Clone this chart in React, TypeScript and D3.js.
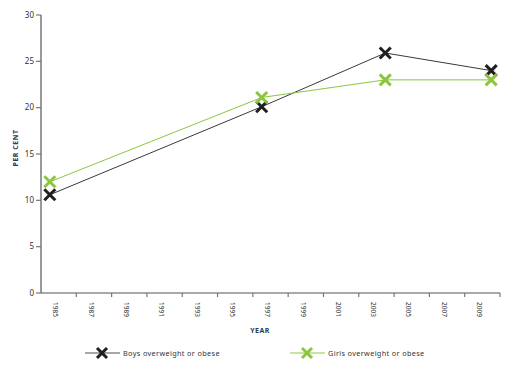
import * as d3 from 'd3';

const yearLabels = ['1985', '1987', '1989', '1991', '1993', '1995', '1997', '1999', '2001', '2003', '2005', '2007', '2009'];
const surveyYears = [1985, 1997, 2004, 2010];
const boysValues = [10.6, 20.1, 25.9, 24.0];
const girlsValues = [12.0, 21.1, 23.0, 23.0];
const yTicks = [0, 5, 10, 15, 20, 25, 30];

const series = [
  { name: 'Boys overweight or obese', values: boysValues, line: '#3a3a3a', marker: '#1f1f1f', legendLine: '#8a8a8a' },
  { name: 'Girls overweight or obese', values: girlsValues, line: '#8cc63f', marker: '#8cc63f', legendLine: '#b5db8a' },
];

const font = '"Noto Sans", sans-serif';

function Cross(props: { x: number, y: number, color: string, size?: number }) {
  const s = props.size || 5.5;
  return (
    <g stroke={props.color} strokeWidth={3} strokeLinecap="butt">
      <line x1={props.x - s} y1={props.y - s} x2={props.x + s} y2={props.y + s} />
      <line x1={props.x - s} y1={props.y + s} x2={props.x + s} y2={props.y - s} />
    </g>
  );
}

export default function App() {
  const left = 41, right = 500, top = 15, bottom = 293;

  // categories for the tick labels
  const band = d3.scaleBand().domain(yearLabels).range([left, right]);
  // actual years for the points
  const x = d3.scaleLinear().domain([1984.5, 2010.5]).range([left, right]);
  const y = d3.scaleLinear().domain([0, 30]).range([bottom, top]);

  const line = d3.line<number>()
    .x((d, i) => x(surveyYears[i]))
    .y(d => y(d));

  const boundaries = yearLabels.map(l => band(l)! + band.bandwidth());

  return (
    <div style={{ position: 'absolute', left: 0, top: 0 }}>
      <svg width={521} height={368} style={{ display: 'block', fontFamily: font }}>
        <rect width={521} height={368} fill="#fff" />

        {/* Y axis */}
        <line x1={left} y1={top} x2={left} y2={bottom} stroke="#555" strokeWidth={1.2} />
        {yTicks.map(t => (
          <g key={t}>
            <line x1={left - 5} x2={left} y1={y(t)} y2={y(t)} stroke="#777" strokeWidth={1.2} />
            <text x={left - 7} y={y(t)} dy="0.35em" textAnchor="end" fontSize={8} fill="#333">{t}</text>
          </g>
        ))}
        <text transform={`translate(15.5,148) rotate(-90)`} dy="0.35em" textAnchor="middle" fontSize={7} fontWeight="bold" fill="#2b3a55" letterSpacing={0.5}>PER CENT</text>

        {/* X axis */}
        <line x1={left} y1={bottom} x2={right} y2={bottom} stroke="#555" strokeWidth={1.2} />
        {boundaries.map((b, i) => (
          <line key={i} x1={b} x2={b} y1={bottom} y2={bottom + 4} stroke="#777" strokeWidth={1.2} />
        ))}
        {yearLabels.map(l => (
          <text key={l} transform={`translate(${band(l)! + band.bandwidth() / 2 - 3},${bottom + 9}) rotate(90)`}
            textAnchor="start" dy="0.35em" fontSize={6.5} fill="#333">{l}</text>
        ))}
        <text x={260} y={333} textAnchor="middle" fontSize={7} fontWeight="bold" fill="#2b3a55" letterSpacing={0.5}>YEAR</text>

        {/* Series */}
        {series.map(s => (
          <path key={s.name} d={line(s.values)!} fill="none" stroke={s.line} strokeWidth={1} />
        ))}
        {series.map(s => s.values.map((v, i) => (
          <Cross key={s.name + i} x={x(surveyYears[i])} y={y(v)} color={s.marker} />
        )))}

        {/* Legend */}
        {series.map((s, i) => {
          const lx = 85 + i * 205;
          return (
            <g key={s.name}>
              <line x1={lx} x2={lx + 35} y1={353} y2={353} stroke={s.legendLine} strokeWidth={1.5} />
              <Cross x={lx + 17} y={353} color={s.marker} size={5} />
              <text x={lx + 38} y={353} dy="0.35em" fontSize={7.3} fill="#333" letterSpacing={0.35}>{s.name}</text>
            </g>
          );
        })}
      </svg>
    </div>
  );
}
